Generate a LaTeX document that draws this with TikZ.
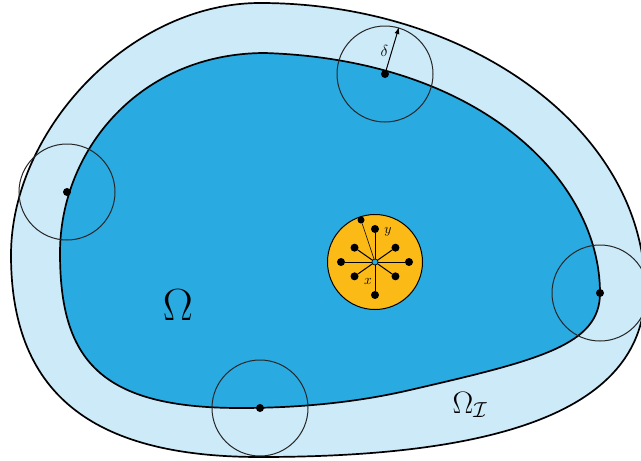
\RequirePackage{fix-cm}
\documentclass[tikz,border=0pt]{standalone}
\usetikzlibrary{arrows.meta}
\definecolor{domblue}{RGB}{41,171,226}
\definecolor{layerblue}{RGB}{205,234,248}
\definecolor{horizon}{RGB}{251,186,22}
\begin{document}
\begin{tikzpicture}[x=1pt, y=-1pt,
  dot/.style={circle, fill=black, inner sep=0pt, minimum size=8pt},
  ball/.style={draw=black!85, line width=1pt},
  rim/.style={line width=1.7pt}]
  \useasboundingbox (0,0) rectangle (641,461);
  \clip (0,0) rectangle (641,461);

  % Interaction layer (outer region)
  \filldraw[rim, fill=layerblue] (260,3)
    .. controls (469,3) and (645,130) .. (645,290)
    .. controls (645,410) and (500,457) .. (260,457)
    .. controls (100,457) and (11,400) .. (11,255)
    .. controls (11,130) and (130,3) .. cycle;

  % Domain Omega
  \filldraw[rim, fill=domblue] (265,53)
    .. controls (480,60) and (600,180) .. (600,293)
    .. controls (600,345) and (540,360) .. (410,390)
    .. controls (350,404) and (290,408) .. (240,408)
    .. controls (100,408) and (60,360) .. (60,253)
    .. controls (60,150) and (140,53) .. cycle;

  % Balls of radius delta at the boundary
  \coordinate (B1) at (385,74);
  \coordinate (B2) at (67,192);
  \coordinate (B3) at (600,293);
  \coordinate (B4) at (260,408);
  \foreach \b in {B1,B2,B3,B4} {
    \draw[ball] (\b) circle (48);
    \node[dot] at (\b) {};
  }
  \coordinate (D) at ([shift={(14,-47)}]B1);
  \draw[line width=1pt, -{Latex[length=7pt,width=5pt]}] (B1) -- (D)
    node[midway, left=0pt, font=\fontsize{16}{16}\selectfont] {$\delta$};

  % Horizon of x
  \node[circle, draw, fill=horizon, line width=1pt, minimum size=95pt, inner sep=0pt] (H) at (375,262) {};
  \coordinate (X) at (375,262);
  \node[dot, minimum size=7pt] (R) at ([shift={(-14,-42)}]X) {};
  \draw[line width=0.5pt] (X) -- (R);
  \foreach \a/\r [count=\i] in {0/34, 35/25, 90/33, 145/25, 180/34, 215/25, 270/33, 325/25} {
    \node[dot] (p\i) at ([shift={(\a:\r)}]X) {};
    \draw[line width=1pt] (X) -- (p\i);
  }
  \node[circle, draw, fill=domblue, inner sep=0pt, minimum size=6pt, line width=0.6pt] (xc) at (X) {};
  \node[font=\fontsize{14}{14}\selectfont] (ly) at ([shift={(13,-30)}]X) {$y$};
  \node[font=\fontsize{14}{14}\selectfont] (lx) at ([shift={(-7,19)}]X) {$x$};

  % Labels
  \node[font=\fontsize{45}{45}\selectfont] (om) at (178,305) {$\Omega$};
  \node[font=\fontsize{31}{31}\selectfont] (omI) at (470,405) {$\Omega_{\mathcal{I}}$};
\end{tikzpicture}
\end{document}
